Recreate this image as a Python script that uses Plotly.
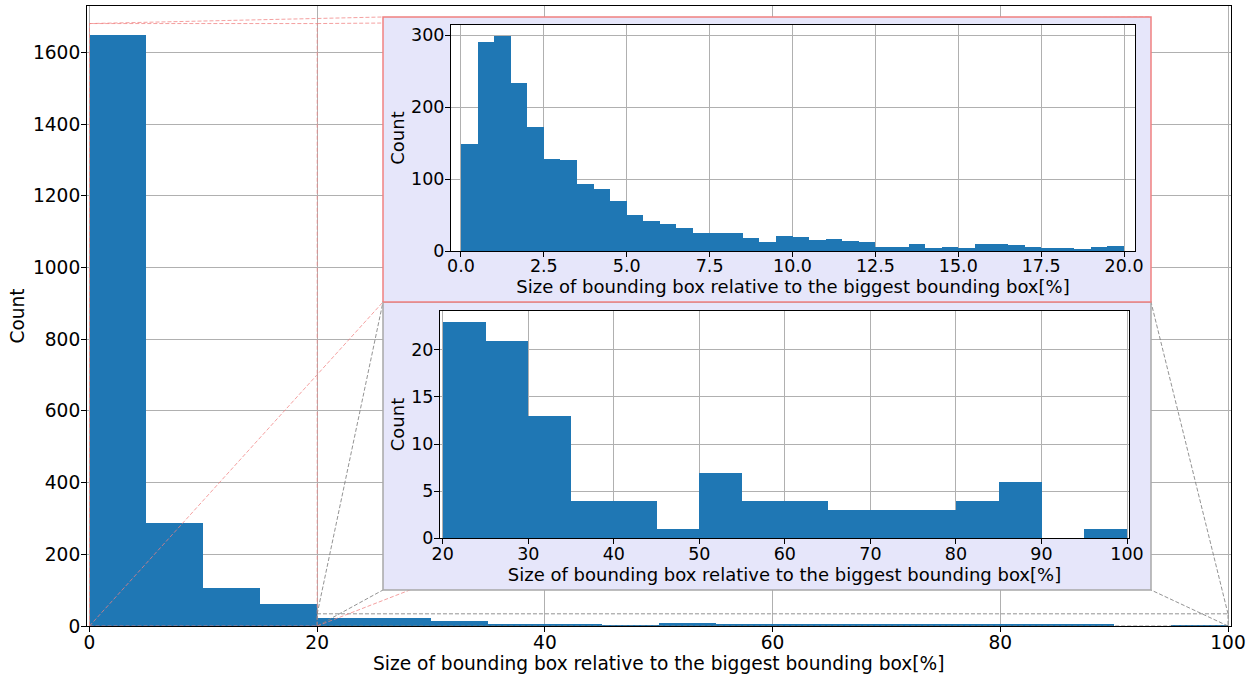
import plotly.graph_objects as go

# ---------------- data ----------------
main_bin_edges = [0, 5, 10, 15, 20, 25, 30, 35, 40, 45, 50, 55, 60, 65, 70, 75, 80, 85, 90, 95, 100]
main_counts = [1648, 288, 106, 61, 23, 21, 13, 4, 4, 1, 7, 4, 4, 3, 3, 3, 4, 6, 0, 1]

top_bin_edges = [i * 0.5 for i in range(41)]
top_counts = [149, 291, 299, 234, 172, 128, 126, 93, 86, 70,
              50, 42, 37, 32, 25, 25, 25, 18, 13, 21,
              20, 15, 16, 14, 12, 5, 5, 10, 4, 5,
              4, 10, 10, 9, 6, 4, 4, 2, 5, 7]

bottom_bin_edges = [20, 25, 30, 35, 40, 45, 50, 55, 60, 65, 70, 75, 80, 85, 90, 95, 100]
bottom_counts = [23, 21, 13, 4, 4, 1, 7, 4, 4, 3, 3, 3, 4, 6, 0, 1]

main_xticks = [0, 20, 40, 60, 80, 100]
top_xticks = [0, 2.5, 5, 7.5, 10, 12.5, 15, 17.5, 20]
bottom_xticks = [20, 30, 40, 50, 60, 70, 80, 90, 100]

xlabel = "Size of bounding box relative to the biggest bounding box[%]"
ylabel = "Count"

# zoom regions indicated on the main axes (data coords)
zoom_top = dict(x0=0, x1=20, y0=0, y1=1681)
zoom_bottom = dict(x0=20, x1=100, y0=0, y1=34)

# ---------------- layout geometry (pixels) ----------------
W, H = 1255, 675
MAIN = dict(l=87, r=1230.5, t=6, b=626)
MAIN_XR = [-0.22, 100.22]
MAIN_YR = [0, 1730]
TOP = dict(l=451, r=1135, t=25, b=251)
TOP_XR = [-0.30, 20.33]
TOP_YR = [0, 314]
BOT = dict(l=440, r=1129, t=310.7, b=538.3)
BOT_XR = [19.68, 100.23]
BOT_YR = [0, 24.15]
BOX_TOP = dict(l=383, r=1151, t=17, b=302)
BOX_BOT = dict(l=383, r=1151, t=302, b=590)


def dx(g):
    return [g['l'] / W, g['r'] / W]


def dy(g):
    return [1 - g['b'] / H, 1 - g['t'] / H]


def to_main(px, py):
    x = MAIN_XR[0] + (px - MAIN['l']) / (MAIN['r'] - MAIN['l']) * (MAIN_XR[1] - MAIN_XR[0])
    y = MAIN_YR[0] + (MAIN['b'] - py) / (MAIN['b'] - MAIN['t']) * (MAIN_YR[1] - MAIN_YR[0])
    return x, y


def centers_widths(edges):
    c = [(edges[i] + edges[i + 1]) / 2 for i in range(len(edges) - 1)]
    w = [edges[i + 1] - edges[i] for i in range(len(edges) - 1)]
    return c, w


BLUE = "#1f77b4"
FONT = "DejaVu Sans"
RED_EDGE = "#f08080"
RED_DASH = "rgba(240,128,128,0.75)"
GRAY_EDGE = "#a8a8a8"
GRAY_DASH = "rgba(128,128,128,0.85)"
LAV = "#e6e6fa"

fig = go.Figure()

# main histogram
c, w = centers_widths(main_bin_edges)
fig.add_trace(go.Bar(x=c, y=main_counts, width=w, marker=dict(color=BLUE, line=dict(width=0)),
                     xaxis="x", yaxis="y", showlegend=False, hoverinfo="skip"))


def add_line(xs, ys, color, dash="4px,2px", width=1):
    fig.add_trace(go.Scatter(x=xs, y=ys, mode="lines", line=dict(color=color, width=width, dash=dash),
                             xaxis="x", yaxis="y", showlegend=False, hoverinfo="skip"))


# indicator rectangles
for z, col in [(zoom_top, RED_DASH), (zoom_bottom, GRAY_DASH)]:
    add_line([z['x0'], z['x1'], z['x1'], z['x0'], z['x0']],
             [z['y0'], z['y0'], z['y1'], z['y1'], z['y0']], col)


# connectors
def corners(box):
    return dict(ll=to_main(box['l'], box['b']), ul=to_main(box['l'], box['t']),
                lr=to_main(box['r'], box['b']), ur=to_main(box['r'], box['t']))


ct = corners(BOX_TOP)
cb = corners(BOX_BOT)
zt = dict(ll=(zoom_top['x0'], zoom_top['y0']), ul=(zoom_top['x0'], zoom_top['y1']),
          lr=(zoom_top['x1'], zoom_top['y0']), ur=(zoom_top['x1'], zoom_top['y1']))
zb = dict(ll=(zoom_bottom['x0'], zoom_bottom['y0']), ul=(zoom_bottom['x0'], zoom_bottom['y1']),
          lr=(zoom_bottom['x1'], zoom_bottom['y0']), ur=(zoom_bottom['x1'], zoom_bottom['y1']))
for k in ["ll", "ul", "lr", "ur"]:
    add_line([zt[k][0], ct[k][0]], [zt[k][1], ct[k][1]], RED_DASH)
    add_line([zb[k][0], cb[k][0]], [zb[k][1], cb[k][1]], GRAY_DASH)

# lavender boxes behind the insets
for box, edge in [(BOX_BOT, GRAY_EDGE), (BOX_TOP, RED_EDGE)]:
    x0, y0 = to_main(box['l'], box['b'])
    x1, y1 = to_main(box['r'], box['t'])
    fig.add_trace(go.Scatter(x=[x0, x1, x1, x0, x0], y=[y0, y0, y1, y1, y0], mode="lines",
                             fill="toself", fillcolor=LAV, line=dict(color=edge, width=1.5),
                             xaxis="x", yaxis="y", showlegend=False, hoverinfo="skip"))

# inset histograms
c, w = centers_widths(top_bin_edges)
fig.add_trace(go.Bar(x=c, y=top_counts, width=w, marker=dict(color=BLUE, line=dict(width=0)),
                     xaxis="x2", yaxis="y2", showlegend=False, hoverinfo="skip"))
c, w = centers_widths(bottom_bin_edges)
fig.add_trace(go.Bar(x=c, y=bottom_counts, width=w, marker=dict(color=BLUE, line=dict(width=0)),
                     xaxis="x3", yaxis="y3", showlegend=False, hoverinfo="skip"))

axis_common = dict(showgrid=True, gridcolor="#b0b0b0", gridwidth=1, showline=True, mirror=True,
                   linecolor="black", linewidth=1, ticks="outside", ticklen=5, tickcolor="black",
                   zeroline=False, color="black", automargin=False)

MAIN_FS = 18.6
INSET_TICK_FS = 17.5
INSET_TITLE_FS = 18

fig.update_layout(
    width=W, height=H, margin=dict(l=0, r=0, t=0, b=0, autoexpand=False),
    paper_bgcolor="white", plot_bgcolor="white", bargap=0, barmode="overlay",
    font=dict(family=FONT, color="black"),
    xaxis=dict(domain=dx(MAIN), range=MAIN_XR, anchor="y", tickvals=main_xticks,
               tickfont=dict(size=MAIN_FS), ticklabelstandoff=-5,
               title=dict(text=xlabel, font=dict(size=MAIN_FS), standoff=3),
               **axis_common),
    yaxis=dict(domain=dy(MAIN), range=MAIN_YR, anchor="x", dtick=200,
               tickfont=dict(size=MAIN_FS), ticklabelstandoff=-3,
               title=dict(text=ylabel, font=dict(size=MAIN_FS), standoff=3),
               **axis_common),
    xaxis2=dict(domain=dx(TOP), range=TOP_XR, anchor="y2", tickvals=top_xticks, tickformat=".1f",
                tickfont=dict(size=INSET_TICK_FS), ticklabelstandoff=-6,
                title=dict(text=xlabel, font=dict(size=INSET_TITLE_FS), standoff=0),
                **axis_common),
    yaxis2=dict(domain=dy(TOP), range=TOP_YR, anchor="x2", dtick=100,
                tickfont=dict(size=INSET_TICK_FS), ticklabelstandoff=-3,
                title=dict(text=ylabel, font=dict(size=INSET_TITLE_FS), standoff=1),
                **axis_common),
    xaxis3=dict(domain=dx(BOT), range=BOT_XR, anchor="y3", tickvals=bottom_xticks,
                tickfont=dict(size=INSET_TICK_FS), ticklabelstandoff=-5,
                title=dict(text=xlabel, font=dict(size=INSET_TITLE_FS), standoff=1),
                **axis_common),
    yaxis3=dict(domain=dy(BOT), range=BOT_YR, anchor="x3", dtick=5,
                tickfont=dict(size=INSET_TICK_FS), ticklabelstandoff=-3,
                title=dict(text=ylabel, font=dict(size=INSET_TITLE_FS), standoff=1),
                **axis_common),
)

fig.write_html("out.html")
